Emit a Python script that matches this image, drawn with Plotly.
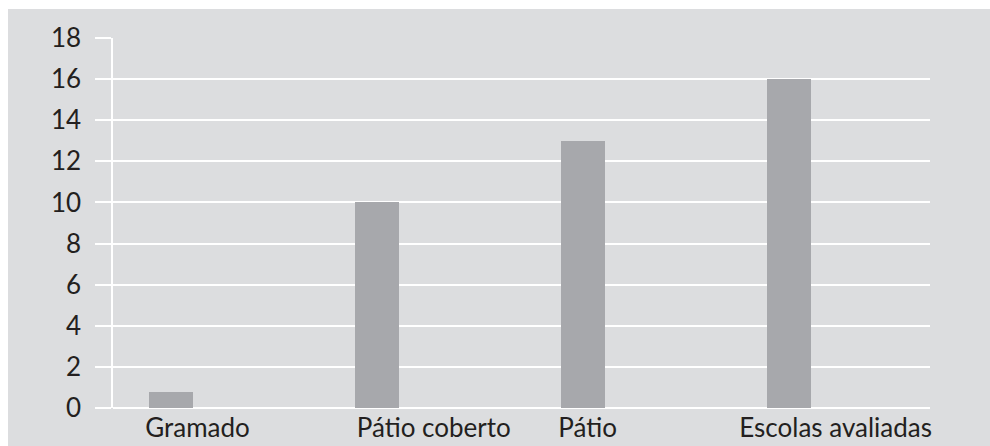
import plotly.graph_objects as go

categories = ["Gramado", "Pátio coberto", "Pátio", "Escolas avaliadas"]
values = [0.8, 10, 13, 16]
y_ticks = [0, 2, 4, 6, 8, 10, 12, 14, 16, 18]

positions = list(range(len(categories)))
label_positions = [0.13, 1.277, 2.024, 3.228]

BG = "#dcdddf"
BAR = "#a7a8ac"
TXT = "#231f20"
FONT = "Lato"
FS = 26

ML, MR, MT, MB = 113, 60, 38, 38
W, H = 990, 446
pw = W - ML - MR
ph = H - MT - MB

fig = go.Figure()
fig.add_trace(go.Bar(
    x=positions, y=values, width=0.214,
    marker=dict(color=BAR, line=dict(width=0)),
    hoverinfo="skip", showlegend=False,
))

fig.update_layout(
    width=W, height=H,
    margin=dict(l=ML, r=MR, t=MT, b=MB, pad=0, autoexpand=False),
    paper_bgcolor="white",
    plot_bgcolor=BG,
    font=dict(family=FONT, size=FS, color=TXT),
    shapes=[dict(
        type="rect", xref="paper", yref="paper",
        x0=(8 - ML) / pw, x1=(W - ML) / pw,
        y0=-(H - (MT + ph)) / ph, y1=(MT + ph - 9) / ph,
        fillcolor=BG, line=dict(width=0), layer="below",
    )],
    xaxis=dict(
        range=[-0.28, 3.686],
        tickmode="array", tickvals=label_positions, ticktext=categories,
        showgrid=False, zeroline=False, showline=False,
        ticks="", tickfont=dict(size=FS, color=TXT),
        ticklabelstandoff=2, automargin=False,
        fixedrange=True,
    ),
    yaxis=dict(
        range=[0, 18],
        tickmode="array", tickvals=y_ticks,
        showgrid=True, gridcolor="white", gridwidth=1.5,
        zeroline=True, zerolinecolor="white", zerolinewidth=1.5,
        showline=True, linecolor="white", linewidth=1.5,
        ticks="outside", ticklen=16, tickcolor="white", tickwidth=1.5,
        ticklabelstandoff=9, automargin=False,
        tickfont=dict(size=FS, color=TXT),
        fixedrange=True,
    ),
    bargap=0,
)

fig.write_html("out.html", config={"displayModeBar": False})
